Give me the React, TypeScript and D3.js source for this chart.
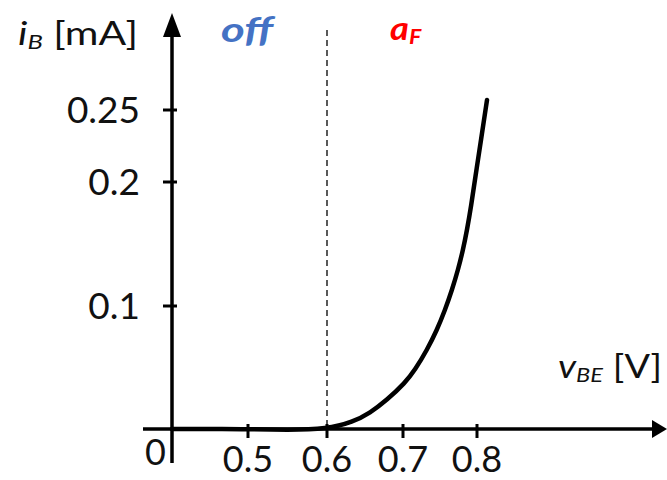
import React, { useEffect } from "react";
import * as d3 from "d3";

// Tick values / labels
const xTicks = [0.5, 0.6, 0.7, 0.8];
const xTickLabels = ["0.5", "0.6", "0.7", "0.8"];
const yTicks = [0.1, 0.2, 0.25];
const yTickLabels = ["0.1", "0.2", "0.25"];

// Curve: v_BE [V] vs i_B [mA]
const vBE = [0, 0.5, 0.55, 0.6, 0.6342, 0.6566, 0.6789, 0.7027, 0.7162, 0.7324, 0.7459, 0.7568, 0.7662, 0.7743, 0.7811, 0.7865, 0.7919, 0.7986, 0.8054, 0.8135];
const iB = [0, 0, -0.0008, 0, 0.0057, 0.013, 0.0236, 0.0374, 0.048, 0.0642, 0.0805, 0.0967, 0.1129, 0.129, 0.1452, 0.1613, 0.1798, 0.2063, 0.2292, 0.2569];

const cutIn = 0.6;

const W = 667;
const H = 480;

export default function App() {
  useEffect(() => {
    document.body.style.margin = "0";
  }, []);

  // axis break: 0 sits at the y axis, then 0.5..0.8
  const x = d3.scaleLinear().domain([0, 0.5, 0.6, 0.7, 0.8]).range([172, 248, 327, 403, 477]);
  const y = d3.scaleLinear().domain([0, 0.1, 0.2, 0.25]).range([429, 306, 182, 110]);

  const pts: [number, number][] = vBE.map((v, i) => [v, iB[i]]);
  const line = d3
    .line<[number, number]>()
    .x((d) => x(d[0]))
    .y((d) => y(d[1]))
    .curve(d3.curveBasis);

  const x0 = x(0);
  const y0 = y(0);
  const font = "Lato, 'Open Sans', sans-serif";

  return (
    <svg width={W} height={H} style={{ display: "block", position: "absolute", left: 0, top: 0 }} fontFamily={font}>
      <rect width={W} height={H} fill="#fff" />
      {/* dashed boundary */}
      <line x1={x(cutIn)} x2={x(cutIn)} y1={30} y2={y0} stroke="#000" strokeWidth={1.3} strokeDasharray="6,4" />
      {/* axes */}
      <line x1={143} x2={657} y1={y0} y2={y0} stroke="#000" strokeWidth={3.5} />
      <path d={`M${W},${y0} L${W - 15},${y0 - 9} L${W - 15},${y0 + 9} Z`} fill="#000" />
      <line x1={x0} x2={x0} y1={463} y2={30} stroke="#000" strokeWidth={3.5} />
      <path d={`M${x0},${13} L${x0 - 9},${37} L${x0 + 9},${37} Z`} fill="#000" />
      {/* ticks */}
      {xTicks.map((t) => (
        <line key={"xt" + t} x1={x(t)} x2={x(t)} y1={y0 - 5} y2={y0 + 9} stroke="#000" strokeWidth={3} />
      ))}
      {yTicks.map((t) => (
        <line key={"yt" + t} x1={x0 - 9} x2={x0 + 5} y1={y(t)} y2={y(t)} stroke="#000" strokeWidth={3} />
      ))}
      {/* tick labels */}
      {xTicks.map((t, i) => (
        <text key={"xl" + t} x={x(t)} y={472} fontSize={36} textAnchor="middle" fill="#111">
          {xTickLabels[i]}
        </text>
      ))}
      {yTicks.map((t, i) => (
        <text key={"yl" + t} x={140} y={y(t) + 13} fontSize={37} textAnchor="end" fill="#111">
          {yTickLabels[i]}
        </text>
      ))}
      <text x={145} y={465} fontSize={36} fill="#111">0</text>
      {/* curve */}
      <path d={line(pts) || ""} fill="none" stroke="#000" strokeWidth={4.5} strokeLinecap="round" />
      {/* axis titles */}
      <g transform="translate(18,45) scale(1.28,1)">
        <text x={0} y={0} fontSize={32} fill="#111">
          <tspan fontStyle="italic">i</tspan>
          <tspan fontStyle="italic" fontSize={20} dy={4}>B</tspan>
          <tspan dy={-4}> [mA]</tspan>
        </text>
      </g>
      <g transform="translate(558,378) scale(1.18,1)">
        <text x={0} y={0} fontSize={32} fill="#111">
          <tspan fontStyle="italic">v</tspan>
          <tspan fontStyle="italic" fontSize={20} dy={4}>BE</tspan>
          <tspan dy={-4}> [V]</tspan>
        </text>
      </g>
      {/* region labels */}
      <g transform="translate(221,42) scale(1.3,1)">
        <text x={0} y={0} fontSize={35} fontWeight="bold" fontStyle="italic" fill="#4472C4">off</text>
      </g>
      <g transform="translate(390,40) scale(1.1,1)">
        <text x={0} y={0} fontSize={33} fontWeight="bold" fontStyle="italic" fill="#FF0000">
          a<tspan fontSize={21} dy={4}>F</tspan>
        </text>
      </g>
    </svg>
  );
}
